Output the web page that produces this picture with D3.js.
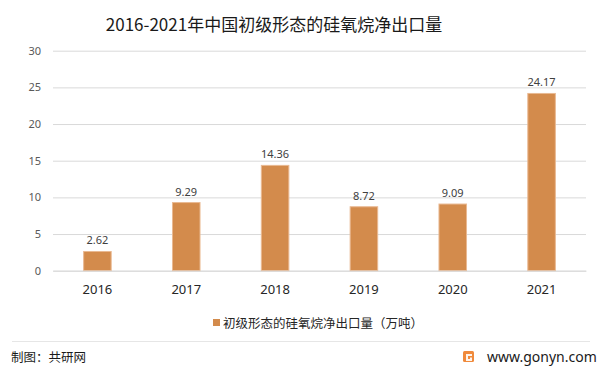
<!DOCTYPE html>
<html><head><meta charset="utf-8">
<script src="https://cdn.jsdelivr.net/npm/d3@7"></script>
<style>
body{margin:0;background:#fff;}
svg{display:block;font-family:"Noto Sans CJK SC","Noto Sans",sans-serif;}
</style></head>
<body><svg id="c" width="602" height="368"></svg>
<script>
const title = "2016-2021年中国初级形态的硅氧烷净出口量";
const categories = ["2016","2017","2018","2019","2020","2021"];
const values = [2.62, 9.29, 14.36, 8.72, 9.09, 24.17];
const yTicks = [0,5,10,15,20,25,30];
const seriesName = "初级形态的硅氧烷净出口量（万吨）";
const source = "制图：共研网";
const site = "www.gonyn.com";

const svg = d3.select("#c");
const m = {l:53, r:586, t:50.7, b:270.7};
const x = d3.scaleBand().domain(categories).range([m.l, m.r]).paddingInner(0.69).paddingOuter(0.345);
const y = d3.scaleLinear().domain([0,30]).range([m.b, m.t]);

// title
svg.append("text").attr("x",274).attr("y",31).attr("text-anchor","middle")
  .attr("font-size",17).attr("fill","#1a1a1a").text(title);

// grid
const yAxis = d3.axisLeft(y).tickValues(yTicks).tickSize(-(m.r-m.l)).tickPadding(12).tickFormat(d3.format("d"));
const ga = svg.append("g").attr("transform",`translate(${m.l},0)`).call(yAxis);
ga.select(".domain").remove();
ga.selectAll(".tick line").attr("stroke","#d9d9d9").attr("stroke-width",1);
ga.selectAll(".tick text").attr("font-size",11).attr("fill","#595959").attr("font-family","'Noto Sans',sans-serif");

// bars
svg.append("g").selectAll("rect").data(values).join("rect")
  .attr("x",(d,i)=>x(categories[i])).attr("width",x.bandwidth())
  .attr("y",d=>y(d)).attr("height",d=>y(0)-y(d))
  .attr("fill","#D38B4C").attr("stroke","#E9B992").attr("stroke-width",1);

// value labels
svg.append("g").selectAll("text").data(values).join("text")
  .attr("x",(d,i)=>x(categories[i])+x.bandwidth()/2).attr("y",d=>y(d)-7)
  .attr("text-anchor","middle").attr("font-size",11).attr("fill","#404040")
  .attr("font-family","'Noto Sans',sans-serif").text(d=>d.toFixed(2));

// x axis
const xa = svg.append("g").attr("transform",`translate(0,${m.b})`).call(d3.axisBottom(x).tickSize(0).tickPadding(14));
xa.select(".domain").attr("stroke","#d9d9d9");
xa.selectAll(".tick text").attr("font-size",13).attr("fill","#262626").attr("font-family","'Noto Sans',sans-serif");

// legend
const lg = svg.append("g");
lg.append("rect").attr("x",213).attr("y",319).attr("width",7).attr("height",7).attr("fill","#D38B4C");
lg.append("text").attr("x",223).attr("y",327.5).attr("font-size",12.5).attr("fill","#262626").text(seriesName);

// footer
svg.append("line").attr("x1",12).attr("x2",590).attr("y1",341.5).attr("y2",341.5).attr("stroke","#e6e6e6");
svg.append("text").attr("x",11).attr("y",362).attr("font-size",12.5).attr("fill","#1a1a1a").text(source);
const logo = svg.append("g").attr("transform","translate(463,351)");
logo.append("rect").attr("width",11).attr("height",11).attr("rx",1.5).attr("fill","#F08A3C");
logo.append("path").attr("d","M3,3 H9 V5 H5 V8 H7 V6.5 H9 V10 H3 Z").attr("fill","#fff").attr("opacity",0.9);
svg.append("text").attr("x",487).attr("y",362).attr("font-size",14).attr("fill","#1a1a1a")
  .attr("font-family","'Noto Sans',sans-serif").text(site);
</script></body></html>
